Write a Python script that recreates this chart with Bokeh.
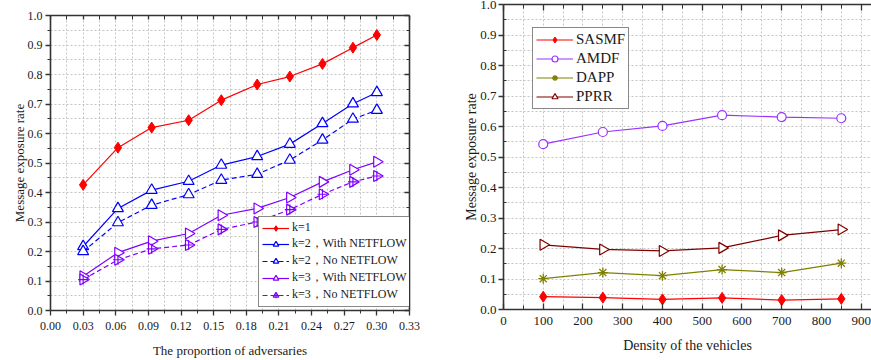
import numpy as np
from bokeh.plotting import figure
from bokeh.models import (LinearAxis, FixedTicker, PrintfTickFormatter, Range1d,
                          Legend, LegendItem)
from bokeh.layouts import row
from bokeh.embed import file_html
from bokeh.resources import INLINE

# ---------------- data: left panel ----------------
adv_x = [0.03, 0.062, 0.093, 0.127, 0.157, 0.19, 0.22, 0.25, 0.278, 0.30]
k1 = [0.426, 0.552, 0.620, 0.645, 0.713, 0.766, 0.793, 0.836, 0.891, 0.934]
k2_with = [0.217, 0.346, 0.408, 0.438, 0.493, 0.522, 0.564, 0.634, 0.701, 0.739]
k2_no = [0.200, 0.298, 0.357, 0.393, 0.442, 0.462, 0.510, 0.578, 0.649, 0.679]
k3_with = [0.116, 0.196, 0.235, 0.261, 0.323, 0.346, 0.383, 0.436, 0.477, 0.504]
k3_no = [0.105, 0.172, 0.209, 0.222, 0.275, 0.300, 0.342, 0.394, 0.436, 0.456]
left_labels = ["k=1", "k=2，With NETFLOW", "k=2，No NETFLOW",
               "k=3，With NETFLOW", "k=3，No NETFLOW"]

# ---------------- data: right panel ----------------
density = [100, 250, 400, 550, 700, 850]
sasmf = [0.042, 0.039, 0.033, 0.038, 0.031, 0.035]
amdf = [0.542, 0.582, 0.602, 0.637, 0.631, 0.627]
dapp = [0.101, 0.121, 0.111, 0.131, 0.121, 0.152]
pprr = [0.212, 0.197, 0.192, 0.202, 0.243, 0.262]
right_labels = ["SASMF", "AMDF", "DAPP", "PPRR"]

# ticks
x1_ticks = [round(0.03 * i, 2) for i in range(12)]
x1_minor = [round(0.015 + 0.03 * i, 3) for i in range(11)]
y_ticks = [round(0.1 * i, 1) for i in range(11)]
y_minor = [round(0.05 + 0.1 * i, 2) for i in range(10)]
x2_ticks = [100 * i for i in range(10)]
x2_minor = [50 + 100 * i for i in range(10)]

FONT = "Liberation Serif"
AX = "#333333"
GRID = "#c4c4c4"
RED = "#ff0000"
BLUE = "#0000ff"
VIOLET = "#8000ff"
AMDF_C = "#9933ff"
OLIVE = "#808000"
MAROON = "#800000"


def style_axis(ax, size="12px", t_in=0, t_out=5, m_in=0, m_out=3, standoff=4,
               title_size="13px", title_standoff=8, labels=True, ticks=None):
    ax.axis_line_color = AX
    ax.axis_line_width = 1.6
    ax.major_tick_line_color = AX
    ax.minor_tick_line_color = AX
    ax.major_tick_line_width = 1.3
    ax.minor_tick_line_width = 1.0
    ax.major_tick_in = t_in
    ax.major_tick_out = t_out
    ax.minor_tick_in = m_in
    ax.minor_tick_out = m_out
    ax.major_label_text_font = FONT
    ax.major_label_text_color = "#1a1a1a"
    ax.axis_label_text_font = FONT
    ax.axis_label_text_font_style = "normal"
    ax.axis_label_text_color = "#1a1a1a"
    ax.axis_label_text_font_size = title_size
    ax.axis_label_standoff = title_standoff
    if labels:
        ax.major_label_text_font_size = size
        ax.major_label_standoff = standoff
    else:
        ax.major_label_overrides = {t: "" for t in ticks}
        ax.major_label_text_font_size = "1px"
        ax.major_label_standoff = 0


def style_grid(g):
    g.grid_line_color = GRID
    g.grid_line_dash = "2 2"
    g.grid_line_width = 1
    g.minor_grid_line_color = GRID
    g.minor_grid_line_dash = "2 2"
    g.minor_grid_line_width = 1


# ================= left figure =================
p1 = figure(width=438, height=360, x_range=Range1d(0, 0.33), y_range=Range1d(0, 1.0),
            output_backend="svg", toolbar_location=None,
            min_border_left=50, min_border_right=29, min_border_top=15, min_border_bottom=50)
p1.outline_line_color = None

p1.xaxis.ticker = FixedTicker(ticks=x1_ticks, minor_ticks=x1_minor)
p1.xaxis.formatter = PrintfTickFormatter(format="%.2f")
p1.xaxis.axis_label = "The proportion of adversaries"
style_axis(p1.xaxis[0], size="12px", t_out=5, m_out=3, standoff=6, title_size="13px",
           title_standoff=10)
p1.yaxis.ticker = FixedTicker(ticks=y_ticks, minor_ticks=y_minor)
p1.yaxis.formatter = PrintfTickFormatter(format="%.1f")
p1.yaxis.axis_label = "Message exposure rate"
style_axis(p1.yaxis[0], size="12px", t_out=5, m_out=3, standoff=3, title_size="13px",
           title_standoff=-2)
style_grid(p1.xgrid[0])
style_grid(p1.ygrid[0])

top1 = LinearAxis(ticker=FixedTicker(ticks=x1_ticks, minor_ticks=x1_minor))
style_axis(top1, t_in=4, t_out=0, m_in=4, m_out=0, labels=False, ticks=x1_ticks)
p1.add_layout(top1, "above")
right1 = LinearAxis(ticker=FixedTicker(ticks=y_ticks, minor_ticks=y_minor))
style_axis(right1, t_in=5, t_out=0, m_in=3, m_out=0, labels=False, ticks=y_ticks)
p1.add_layout(right1, "right")

lw = 1.2
r_k1_l = p1.line(adv_x, k1, line_color=RED, line_width=lw)
r_k1_m = p1.scatter(adv_x, k1, marker="diamond", size=11, fill_color=RED, line_color=RED)
r_k2w_l = p1.line(adv_x, k2_with, line_color=BLUE, line_width=lw)
r_k2w_m = p1.scatter(adv_x, k2_with, marker="triangle", size=11, fill_color="white",
                     line_color=BLUE, line_width=1.2)
r_k2n_l = p1.line(adv_x, k2_no, line_color=BLUE, line_width=lw, line_dash="5 3")
r_k2n_m = p1.scatter(adv_x, k2_no, marker="triangle", size=11, fill_color="white",
                     line_color=BLUE, line_width=1.2)
r_k3w_l = p1.line(adv_x, k3_with, line_color=VIOLET, line_width=lw)
r_k3w_m = p1.scatter(adv_x, k3_with, marker="triangle", size=11, angle=-np.pi / 2,
                     fill_color="white", line_color=VIOLET, line_width=1.2)
r_k3n_l = p1.line(adv_x, k3_no, line_color=VIOLET, line_width=lw, line_dash="5 3")
r_k3n_m = p1.scatter(adv_x, k3_no, marker="triangle", size=11, angle=-np.pi / 2,
                     fill_color="white", line_color=VIOLET, line_width=1.2)
r_k3n_c = p1.scatter(adv_x, k3_no, marker="cross", size=10, line_color=VIOLET,
                     line_width=1.2)

leg1 = Legend(items=[
    LegendItem(label=left_labels[0], renderers=[r_k1_l, r_k1_m]),
    LegendItem(label=left_labels[1], renderers=[r_k2w_l, r_k2w_m]),
    LegendItem(label=left_labels[2], renderers=[r_k2n_l, r_k2n_m]),
    LegendItem(label=left_labels[3], renderers=[r_k3w_l, r_k3w_m]),
    LegendItem(label=left_labels[4], renderers=[r_k3n_l, r_k3n_m, r_k3n_c]),
], location=(208, 3))
leg1.label_text_font = FONT
leg1.label_text_font_size = "12px"
leg1.label_text_line_height = 0.8
leg1.label_text_color = "#1a1a1a"
leg1.glyph_width = 27
leg1.glyph_height = 14
leg1.label_height = 14
leg1.label_standoff = 3
leg1.spacing = 0
leg1.padding = 3
leg1.margin = 0
leg1.border_line_color = "#111111"
leg1.border_line_width = 1.5
leg1.background_fill_alpha = 1.0
p1.add_layout(leg1)

# ================= right figure =================
p2 = figure(width=433, height=370, x_range=Range1d(0, 926), y_range=Range1d(0, 1.0),
            output_backend="svg", toolbar_location=None,
            min_border_left=65, min_border_right=0, min_border_top=15, min_border_bottom=50,
            styles={"margin-top": "-11px"})
p2.outline_line_color = None
p2.xaxis.ticker = FixedTicker(ticks=x2_ticks, minor_ticks=x2_minor)
p2.xaxis.axis_label = "Density of the vehicles"
style_axis(p2.xaxis[0], size="13px", t_in=6, t_out=0, m_in=4, m_out=0, standoff=7,
           title_size="14px", title_standoff=10)
p2.yaxis.ticker = FixedTicker(ticks=y_ticks, minor_ticks=y_minor)
p2.yaxis.formatter = PrintfTickFormatter(format="%.1f")
p2.yaxis.axis_label = "Message exposure rate"
style_axis(p2.yaxis[0], size="13px", t_out=5, m_out=0, m_in=3, standoff=2,
           title_size="14px", title_standoff=-2)
style_grid(p2.xgrid[0])
style_grid(p2.ygrid[0])

top2 = LinearAxis(ticker=FixedTicker(ticks=x2_ticks, minor_ticks=x2_minor))
style_axis(top2, t_in=6, t_out=0, m_in=4, m_out=0, labels=False, ticks=x2_ticks)
p2.add_layout(top2, "above")

r_sa_l = p2.line(density, sasmf, line_color=RED, line_width=lw)
r_sa_m = p2.scatter(density, sasmf, marker="diamond", size=11, fill_color=RED, line_color=RED)
r_am_l = p2.line(density, amdf, line_color=AMDF_C, line_width=lw)
r_am_m = p2.scatter(density, amdf, marker="circle", size=9, fill_color="white",
                    line_color=AMDF_C, line_width=1.2)
r_da_l = p2.line(density, dapp, line_color=OLIVE, line_width=lw)
r_da_m = p2.scatter(density, dapp, marker="asterisk", size=10, line_color=OLIVE,
                    line_width=1.3)
r_pp_l = p2.line(density, pprr, line_color=MAROON, line_width=lw)
r_pp_m = p2.scatter(density, pprr, marker="triangle", size=11, angle=-np.pi / 2,
                    fill_color="white", line_color=MAROON, line_width=1.2)

leg2 = Legend(items=[
    LegendItem(label=right_labels[0], renderers=[r_sa_l, r_sa_m]),
    LegendItem(label=right_labels[1], renderers=[r_am_l, r_am_m]),
    LegendItem(label=right_labels[2], renderers=[r_da_l, r_da_m]),
    LegendItem(label=right_labels[3], renderers=[r_pp_l, r_pp_m]),
], location=(29, 200))
leg2.label_text_font = FONT
leg2.label_text_font_size = "15px"
leg2.label_text_color = "#1a1a1a"
leg2.glyph_width = 37
leg2.glyph_height = 15
leg2.label_height = 15
leg2.label_standoff = 3
leg2.spacing = 2
leg2.padding = 3
leg2.margin = 0
leg2.border_line_color = "#111111"
leg2.border_line_width = 1.5
p2.add_layout(leg2)

layout = row(p1, p2)
open("out.html", "w").write(file_html(layout, INLINE))
